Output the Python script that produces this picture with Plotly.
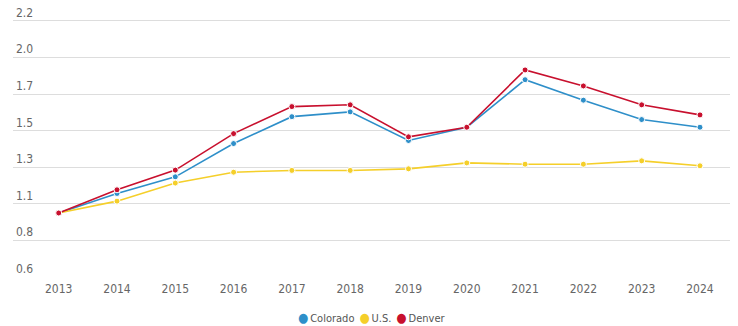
import numpy as np
import plotly.graph_objects as go

# Home price index (2013 = 1.0)
years = list(range(2013, 2025))
colorado = [1.00, 1.122, 1.226, 1.434, 1.602, 1.632, 1.453, 1.536, 1.833, 1.705, 1.584, 1.536]
us = [1.00, 1.074, 1.187, 1.255, 1.266, 1.266, 1.276, 1.313, 1.305, 1.305, 1.326, 1.295]
denver = [1.00, 1.145, 1.268, 1.496, 1.665, 1.676, 1.476, 1.536, 1.894, 1.794, 1.676, 1.613]

# Y gridlines: eight evenly spaced steps from 0.6 to 2.2
y_min, y_max = 0.6, 2.2
y_ticks = list(np.linspace(y_min, y_max, 8))
y_tick_text = [f"{v:.1f}" for v in y_ticks]

series = [
    ("Colorado", colorado, "#2e8fc9"),
    ("U.S.", us, "#f5cf2a"),
    ("Denver", denver, "#c8102e"),
]

FONT = "Liberation Sans Narrow, DejaVu Sans Condensed, Arial Narrow, sans-serif"

fig = go.Figure()
for name, vals, color in series:
    fig.add_trace(go.Scatter(
        x=years, y=vals, name=name, mode="lines+markers", showlegend=False,
        line=dict(color=color, width=1.6),
        marker=dict(color=color, size=6, line=dict(color="white", width=1)),
    ))

# Compact dot legend centred under the plot
legend_text = "\u2002".join(
    f"<span style='color:{c};font-size:13px'>\u25CF</span>\u2009{n}" for n, _, c in series
)
fig.add_annotation(
    text=legend_text, xref="paper", yref="paper", x=0.5, y=-0.147,
    xanchor="center", yanchor="middle", showarrow=False,
    font=dict(family=FONT, size=11, color="#555555"),
)

# Headroom above the top gridline keeps its inside label visible
top_pad = 21 / 160.2

fig.update_layout(
    width=738, height=326,
    margin=dict(l=13, r=8, t=0, b=49),
    paper_bgcolor="white", plot_bgcolor="white",
    font=dict(family=FONT, size=12, color="#666666"),
    xaxis=dict(
        range=[2012.216, 2024.515], tickvals=years, ticktext=[str(y) for y in years],
        showgrid=False, zeroline=False, showline=False, ticks="",
        ticklabelstandoff=3,
        tickfont=dict(size=12, color="#666666"),
    ),
    yaxis=dict(
        range=[y_min, y_max + top_pad], tickvals=y_ticks, ticktext=y_tick_text,
        showgrid=True, gridcolor="#dddddd", gridwidth=1, zeroline=False,
        showline=False, ticks="", ticklabelposition="inside top",
        tickfont=dict(size=12, color="#666666"),
    ),
)

fig.write_html("out.html")
